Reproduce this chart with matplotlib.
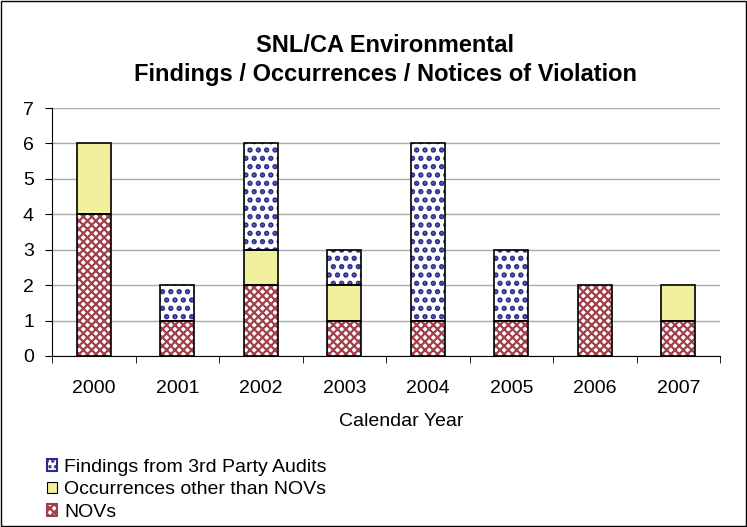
import matplotlib
matplotlib.use("Agg")
import matplotlib.pyplot as plt
import numpy as np
from matplotlib.patches import Rectangle

years = ["2000", "2001", "2002", "2003", "2004", "2005", "2006", "2007"]
novs = [4, 1, 2, 1, 1, 1, 2, 1]
occurrences = [2, 0, 1, 1, 0, 0, 0, 1]
findings = [0, 1, 3, 1, 5, 2, 0, 0]

plt.rcParams['font.family'] = ['Liberation Sans', 'DejaVu Sans']
plt.rcParams['hatch.linewidth'] = 1.6

NOV_C = '#A0404A'
FIND_C = '#2B2B8C'
OCC_C = '#F2F09C'

fig = plt.figure(figsize=(7.47, 5.27), dpi=100)
fig.patches.append(Rectangle((0.002, 0.002), 0.996, 0.996, transform=fig.transFigure,
                             fill=False, edgecolor='black', linewidth=1))
ax = fig.add_axes([0.0696, 0.3245, 0.8944, 0.4705])

x = np.arange(len(years))
w = 0.41
novs_a = np.array(novs)
occ_a = np.array(occurrences)
fin_a = np.array(findings)


def set_hlw(patches, lw):
    for p in patches:
        if hasattr(p, 'set_hatch_linewidth'):
            p.set_hatch_linewidth(lw)


b1 = ax.bar(x, novs_a, w, color='white', edgecolor=NOV_C, hatch='xxxx', linewidth=0, zorder=3)
b2 = ax.bar(x, occ_a, w, bottom=novs_a, color=OCC_C, linewidth=0, zorder=3)
b3 = ax.bar(x, fin_a, w, bottom=novs_a + occ_a, color='white', edgecolor=FIND_C, hatch='..', linewidth=0, zorder=3)
set_hlw(b3, 2.6)
for bars in (b1, b2, b3):
    for r in bars:
        if r.get_height() > 0:
            ax.add_patch(Rectangle((r.get_x(), r.get_y()), r.get_width(), r.get_height(),
                                   fill=False, edgecolor='black', linewidth=1.2, zorder=4))

ax.set_ylim(0, 7)
ax.set_xlim(-0.5, len(years) - 0.5)
ax.set_yticks(range(0, 8))
ax.set_xticks(x)
ax.set_xticklabels(years)
ax.set_xticks(np.arange(-0.5, len(years)), minor=True)
ax.tick_params(axis='x', which='major', length=0, pad=17, labelsize=14)
ax.tick_params(axis='x', which='minor', length=5, direction='out')
ax.tick_params(axis='y', length=5, direction='out', labelsize=14, pad=8)
ax.yaxis.grid(True, color='#AAAAAA', linewidth=1, zorder=0)
ax.set_axisbelow(True)
for s in ['top', 'right']:
    ax.spines[s].set_visible(False)

fig.text(401 / 747, 1 - 421 / 527, "Calendar Year", ha='center', va='center', fontsize=14)
fig.text(0.516, 1 - 45 / 527, "SNL/CA Environmental", ha='center', va='center', fontsize=17, fontweight='bold')
fig.text(0.516, 1 - 75 / 527, "Findings / Occurrences / Notices of Violation", ha='center', va='center',
         fontsize=17, fontweight='bold')

h3a = Rectangle((0, 0), 1, 1, facecolor='white', edgecolor=FIND_C, hatch='...', linewidth=0)
h3b = Rectangle((0, 0), 1, 1, fill=False, edgecolor=FIND_C, linewidth=1.5)
h2 = Rectangle((0, 0), 1, 1, facecolor=OCC_C, edgecolor='black', linewidth=0.8)
h1a = Rectangle((0, 0), 1, 1, facecolor='white', edgecolor=NOV_C, hatch='xxxx', linewidth=0)
h1b = Rectangle((0, 0), 1, 1, fill=False, edgecolor=NOV_C, linewidth=1.5)
leg = fig.legend([(h3a, h3b), h2, (h1a, h1b)],
                 ["Findings from 3rd Party Audits", "Occurrences other than NOVs", "NOVs"],
                 loc='lower left', bbox_to_anchor=(0.0426, -0.018), frameon=False, fontsize=14,
                 handlelength=0.52, handleheight=0.52, handletextpad=0.35, labelspacing=0.28,
                 borderpad=0.3)

fig.savefig("out.png", dpi=100)
